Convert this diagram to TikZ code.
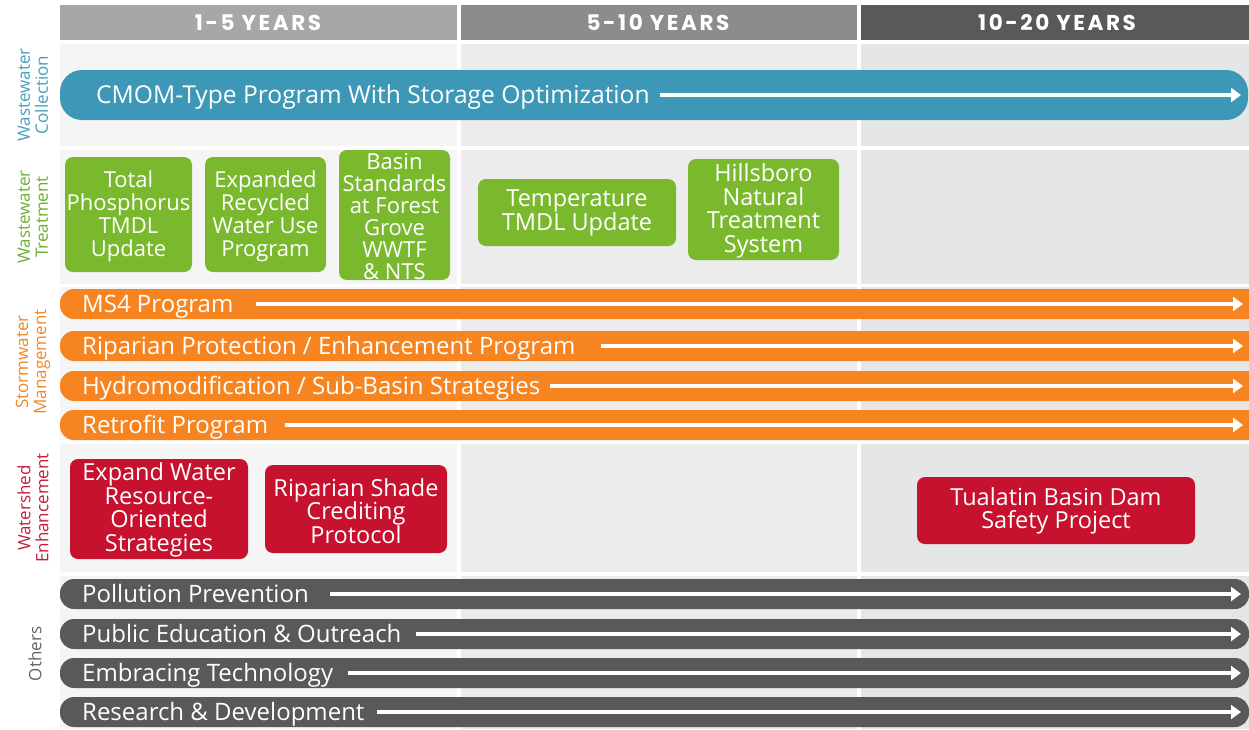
\documentclass[tikz,border=0pt]{standalone}
\usepackage{fontspec}
\setmainfont{Open Sans}
\newfontfamily\hdrfont[LetterSpace=12.0]{Poppins}
\usetikzlibrary{arrows.meta}
\definecolor{cblue}{RGB}{61,152,184}
\definecolor{cgreen}{RGB}{122,185,46}
\definecolor{corange}{RGB}{246,132,32}
\definecolor{cred}{RGB}{198,18,46}
\definecolor{cdark}{RGB}{88,89,91}
\definecolor{hone}{RGB}{167,167,167}
\definecolor{htwo}{RGB}{140,140,140}
\definecolor{bgone}{RGB}{245,245,245}
\definecolor{bgtwo}{RGB}{236,236,236}
\definecolor{bgthree}{RGB}{229,230,230}
\definecolor{lblue}{RGB}{70,160,190}
\definecolor{lgreen}{RGB}{110,175,50}
\definecolor{lorange}{RGB}{240,138,40}
\definecolor{lred}{RGB}{196,30,58}
\definecolor{lgray}{RGB}{100,101,103}
\tikzset{
  hdr/.style={font=\hdrfont\fontsize{21.5}{22}\selectfont\bfseries, text=white},
  rowlbl/.style={rotate=90, align=center, font=\fontsize{17}{18}\selectfont, inner sep=0pt},
  boxtxt/.style={align=center, text=white, font=\fontsize{22}{23}\selectfont, inner sep=0pt},
  boxbig/.style={boxtxt, font=\fontsize{23.5}{23.5}\selectfont},
  bartxt/.style={anchor=base west, text=white, font=\fontsize{24}{24}\selectfont, inner sep=0pt},
  flow/.style={draw=white, line width=3.5pt, -{Triangle[length=10pt,width=14pt]}},
}
\begin{document}
\begin{tikzpicture}[x=1pt,y=-1pt]
\useasboundingbox (0,0) rectangle (1249,729);
\fill[white] (0,0) rectangle (1249,729);
% headers
\fill[hone] (60,5) rectangle (457,40);
\fill[htwo] (461,5) rectangle (857,40);
\fill[cdark] (861,5) rectangle (1249,40);
\node[hdr] (h1) at (258,22.5) {1-5 YEARS};
\node[hdr] (h2) at (658,22.5) {5-10 YEARS};
\node[hdr] (h3) at (1057,22.5) {10-20 YEARS};
% column backgrounds per row
\foreach \ya/\yb in {44/146, 150/284, 287/440, 444/572, 576/729}{
  \fill[bgone] (60,\ya) rectangle (457,\yb);
  \fill[bgtwo] (461,\ya) rectangle (857,\yb);
  \fill[bgthree] (861,\ya) rectangle (1249,\yb);
}
% row labels
\node[rowlbl, text=lblue] (l1) at (33,95) {Wastewater\\Collection};
\node[rowlbl, text=lgreen] (l2) at (33,217) {Wastewater\\Treatment};
\node[rowlbl, text=lorange] (l3) at (33,362) {Stormwater\\Management};
\node[rowlbl, text=lred] (l4) at (33,508) {Watershed\\Enhancement};
\node[rowlbl, text=lgray] (l5) at (35,654) {Others};
% blue bar
\fill[cblue, rounded corners=22pt] (60,70) rectangle (1248,120);
\node[bartxt, font=\fontsize{24.6}{24.6}\selectfont] (cmom) at (96,103) {CMOM-Type Program With Storage Optimization};
\coordinate (cmomend) at (1241,95);
\draw[flow] ([xshift=10pt,yshift=8pt]cmom.base east) -- (cmomend);
% green boxes
\fill[cgreen, rounded corners=8pt] (65,157) rectangle (192,272);
\node[boxtxt] (g1) at (128.5,216) {Total\\Phosphorus\\TMDL\\Update};
\fill[cgreen, rounded corners=8pt] (205,157) rectangle (326,272);
\node[boxtxt] (g2) at (265.5,216) {Expanded\\Recycled\\Water Use\\Program};
\fill[cgreen, rounded corners=8pt] (339,150) rectangle (450,280);
\node[boxtxt, font=\fontsize{22}{22}\selectfont] (g3) at (394.5,217) {Basin\\Standards\\at Forest\\Grove\\WWTF\\\& NTS};
\fill[cgreen, rounded corners=8pt] (478,179) rectangle (676,246);
\node[boxbig] (g4) at (577,213) {Temperature\\TMDL Update};
\fill[cgreen, rounded corners=8pt] (688,159) rectangle (839,260);
\node[boxbig] (g5) at (763.5,211) {Hillsboro\\Natural\\Treatment\\System};
% orange bars
\foreach \yc in {304,346,386,425}{
  \fill[corange, rounded corners=14pt] (60,\yc-15) rectangle (1262,\yc+15);
}
\node[bartxt] (ms4) at (82,312) {MS4 Program};
\node[bartxt] (rip) at (82,354) {Riparian Protection / Enhancement Program};
\node[bartxt] (hyd) at (82,394) {Hydromodification / Sub-Basin Strategies};
\node[bartxt] (ret) at (82,433) {Retrofit Program};
\coordinate (ms4end) at (1243,304);
\coordinate (ripend) at (1243,346);
\coordinate (hydend) at (1243,386);
\coordinate (retend) at (1243,425);
\draw[flow] ([xshift=22pt,yshift=8pt]ms4.base east) -- (ms4end);
\draw[flow] ([xshift=25pt,yshift=8pt]rip.base east) -- (ripend);
\draw[flow] ([xshift=10pt,yshift=8pt]hyd.base east) -- (hydend);
\draw[flow] ([xshift=17pt,yshift=8pt]ret.base east) -- (retend);
% red boxes
\fill[cred, rounded corners=8pt] (70,459) rectangle (248,559);
\node[boxbig] (r1) at (159,510) {Expand Water\\Resource-\\Oriented\\Strategies};
\fill[cred, rounded corners=8pt] (265,465) rectangle (447,553);
\node[boxbig] (r2) at (356,511) {Riparian Shade\\Crediting\\Protocol};
\fill[cred, rounded corners=8pt] (917,477) rectangle (1195,544);
\node[boxbig] (r3) at (1056,511) {Tualatin Basin Dam\\Safety Project};
% gray bars
\foreach \yc in {594,634,673,712}{
  \fill[cdark, rounded corners=14pt] (60,\yc-15) rectangle (1249,\yc+15);
}
\node[bartxt] (pol) at (82,602) {Pollution Prevention};
\node[bartxt] (pub) at (82,642) {Public Education \& Outreach};
\node[bartxt] (emb) at (82,681) {Embracing Technology};
\node[bartxt] (res) at (82,720) {Research \& Development};
\coordinate (polend) at (1241,594);
\coordinate (pubend) at (1241,634);
\coordinate (embend) at (1241,673);
\coordinate (resend) at (1241,712);
\draw[flow] ([xshift=21pt,yshift=8pt]pol.base east) -- (polend);
\draw[flow] ([xshift=14pt,yshift=8pt]pub.base east) -- (pubend);
\draw[flow] ([xshift=15pt,yshift=8pt]emb.base east) -- (embend);
\draw[flow] ([xshift=12pt,yshift=8pt]res.base east) -- (resend);
\end{tikzpicture}
\end{document}
